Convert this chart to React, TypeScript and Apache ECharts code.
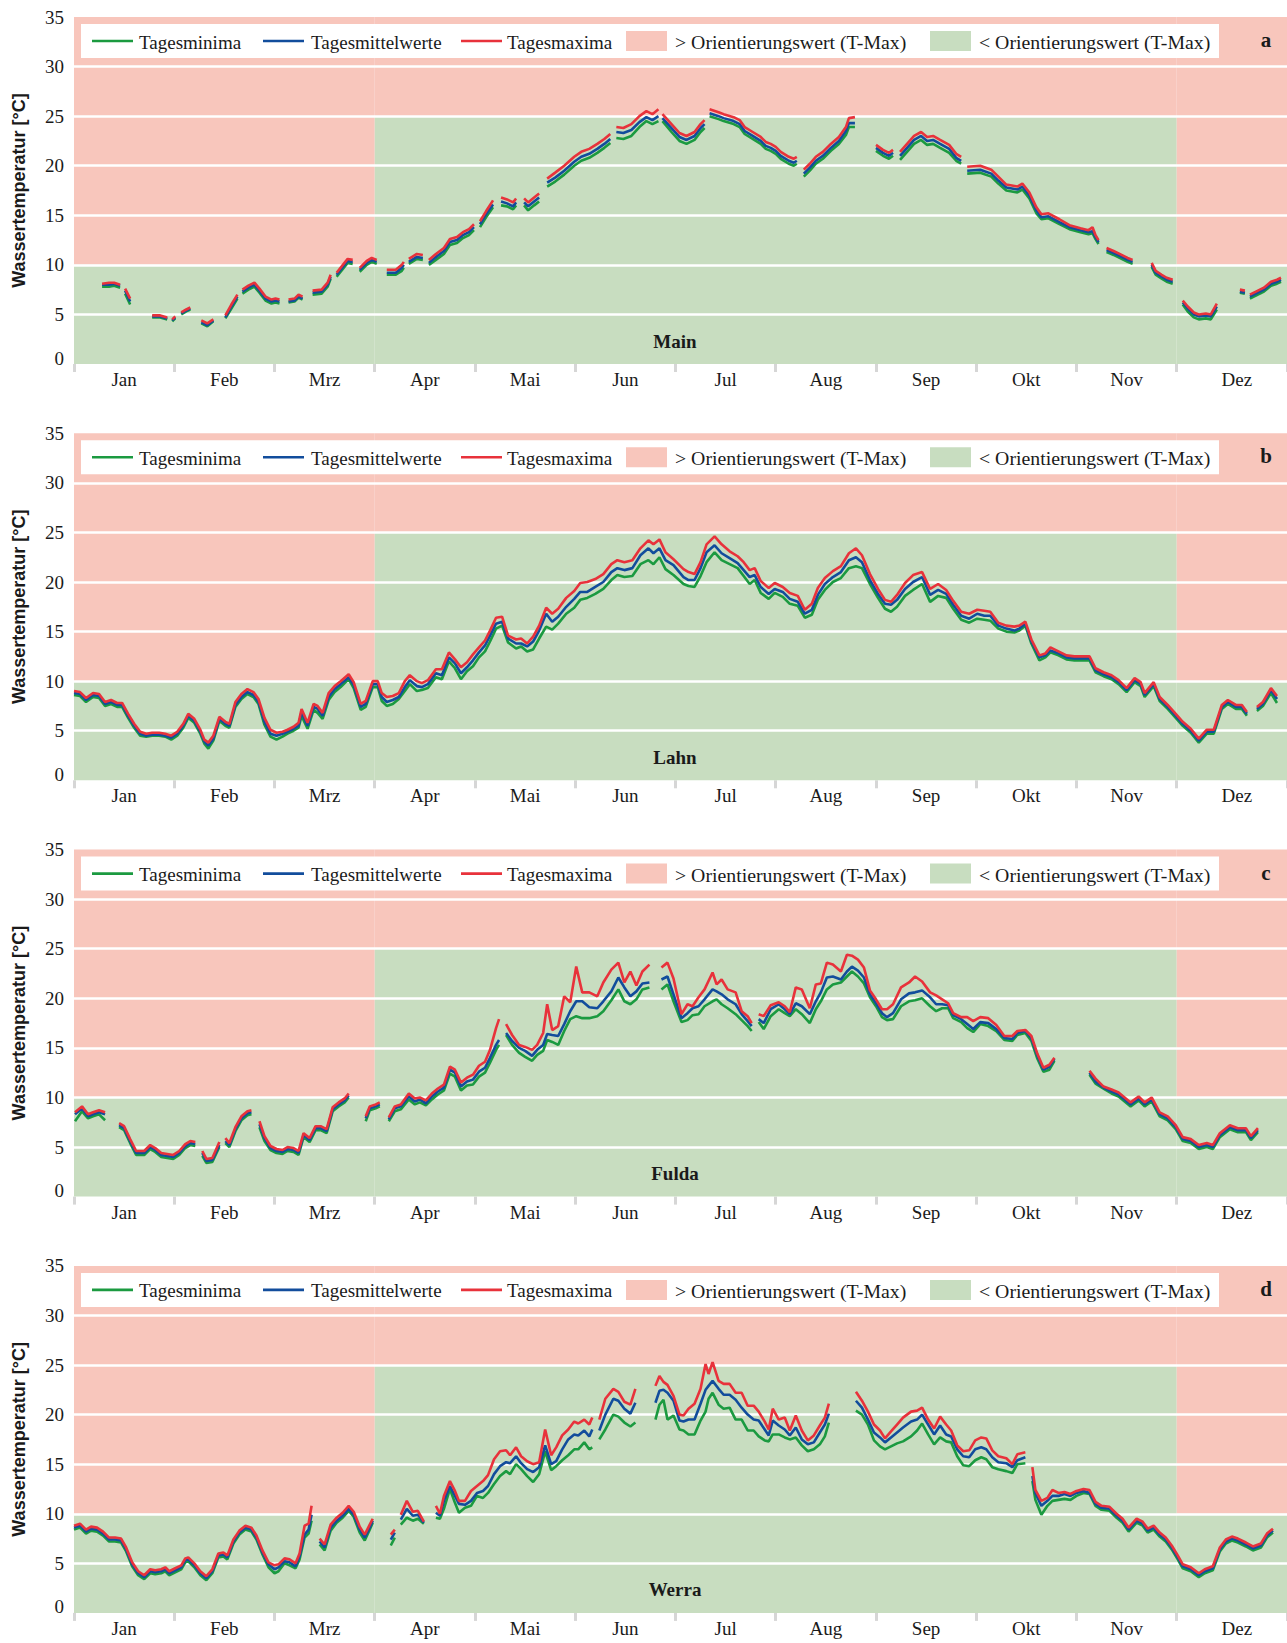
import React, { useEffect, useRef } from "react";
import * as echarts from "echarts";

// ---------- data ----------
const MONTHS = ["Jan", "Feb", "Mrz", "Apr", "Mai", "Jun", "Jul", "Aug", "Sep", "Okt", "Nov", "Dez"];
const RIVERS = ["Main", "Lahn", "Fulda", "Werra"];
const PANEL_LETTERS = ["a", "b", "c", "d"];
const SERIES_NAMES = ["Tagesminima", "Tagesmittelwerte", "Tagesmaxima"];
const AREA_NAMES = ["> Orientierungswert (T-Max)", "< Orientierungswert (T-Max)"];
const Y_TITLE = "Wassertemperatur [°C]";
// threshold (T-Max) by season: [fromMonth, toMonth, value]
const THRESHOLDS = [
  [0, 3, 10],
  [3, 11, 25],
  [11, 12.1, 10],
];

// rows: [position in months, Tagesminima, Tagesmittelwerte, Tagesmaxima]; null = no data
const mainData = [
  [0.28, 7.8, 8.0, 8.1], [0.35, 7.8, 8.0, 8.2], [0.40, 7.9, 8.1, 8.2], [0.46, 7.7, 7.9, 8.0],
  [0.48, null, null, null],
  [0.51, 7.1, 7.4, 7.6], [0.56, 6.0, 6.3, 6.6],
  [0.67, null, null, null],
  [0.78, 4.7, 4.8, 4.9], [0.86, 4.7, 4.8, 4.9], [0.93, 4.5, 4.6, 4.7],
  [0.955, null, null, null],
  [0.98, 4.3, 4.4, 4.5], [1.01, 4.6, 4.7, 4.8],
  [1.04, null, null, null],
  [1.07, 5.0, 5.1, 5.2], [1.12, 5.3, 5.4, 5.5], [1.16, 5.5, 5.6, 5.7],
  [1.21, null, null, null],
  [1.27, 4.1, 4.2, 4.4], [1.33, 3.8, 3.9, 4.1], [1.39, 4.3, 4.4, 4.5],
  [1.45, null, null, null],
  [1.51, 4.6, 4.7, 4.9], [1.57, 5.6, 5.8, 6.0], [1.63, 6.6, 6.8, 7.0],
  [1.655, null, null, null],
  [1.68, 7.1, 7.3, 7.5], [1.74, 7.5, 7.7, 7.9], [1.80, 7.8, 8.0, 8.2], [1.85, 7.2, 7.4, 7.6],
  [1.91, 6.4, 6.6, 6.8], [1.97, 6.1, 6.3, 6.5], [2.01, 6.2, 6.4, 6.6], [2.05, 6.1, 6.3, 6.5],
  [2.10, null, null, null],
  [2.14, 6.2, 6.3, 6.5], [2.20, 6.3, 6.4, 6.6], [2.24, 6.7, 6.8, 7.0], [2.28, 6.5, 6.6, 6.8],
  [2.33, null, null, null],
  [2.38, 7.0, 7.2, 7.4], [2.47, 7.1, 7.3, 7.5], [2.53, 7.8, 8.0, 8.2], [2.56, 8.6, 8.8, 9.0],
  [2.59, null, null, null],
  [2.62, 8.8, 9.0, 9.2], [2.69, 9.7, 9.9, 10.1], [2.73, 10.2, 10.4, 10.6], [2.78, 10.1, 10.3, 10.5],
  [2.815, null, null, null],
  [2.85, 9.3, 9.5, 9.7], [2.92, 10.0, 10.2, 10.4], [2.97, 10.3, 10.5, 10.7], [3.02, 10.1, 10.3, 10.5],
  [3.07, null, null, null],
  [3.12, 9.0, 9.2, 9.5], [3.21, 9.0, 9.2, 9.5], [3.27, 9.4, 9.7, 10.0], [3.29, 9.7, 10.0, 10.3],
  [3.315, null, null, null],
  [3.34, 10.1, 10.3, 10.6], [3.42, 10.6, 10.8, 11.1], [3.48, 10.5, 10.7, 11.0],
  [3.51, null, null, null],
  [3.54, 10.0, 10.2, 10.5], [3.61, 10.5, 10.8, 11.1], [3.69, 11.1, 11.4, 11.7], [3.75, 12.0, 12.3, 12.6],
  [3.82, 12.2, 12.5, 12.8], [3.88, 12.7, 13.0, 13.3], [3.94, 13.0, 13.3, 13.6], [3.99, 13.5, 13.8, 14.1],
  [4.02, null, null, null],
  [4.05, 13.8, 14.1, 14.4], [4.11, 14.8, 15.1, 15.4], [4.18, 15.8, 16.1, 16.5],
  [4.22, null, null, null],
  [4.26, 16.0, 16.4, 16.8], [4.32, 15.9, 16.2, 16.6], [4.38, 15.6, 15.9, 16.3], [4.41, 16.0, 16.3, 16.7],
  [4.45, null, null, null],
  [4.49, 16.0, 16.3, 16.7], [4.53, 15.5, 15.9, 16.3], [4.59, 16.0, 16.4, 16.8], [4.64, 16.4, 16.8, 17.2],
  [4.68, null, null, null],
  [4.72, 17.9, 18.3, 18.7], [4.80, 18.4, 18.8, 19.3], [4.89, 19.1, 19.5, 20.0], [4.99, 20.0, 20.4, 20.9],
  [5.06, 20.5, 20.9, 21.4], [5.14, 20.8, 21.2, 21.7], [5.22, 21.3, 21.7, 22.2], [5.29, 21.8, 22.2, 22.7],
  [5.35, 22.3, 22.7, 23.2],
  [5.38, null, null, null],
  [5.41, 22.8, 23.4, 23.9], [5.48, 22.7, 23.3, 23.8], [5.56, 23.0, 23.6, 24.2], [5.64, 23.9, 24.4, 25.0],
  [5.71, 24.5, 24.9, 25.5], [5.77, 24.2, 24.6, 25.2], [5.83, 24.5, 25.0, 25.7],
  [5.85, null, null, null],
  [5.87, 24.5, 24.8, 25.2], [5.96, 23.4, 23.8, 24.2], [6.04, 22.5, 22.9, 23.3], [6.11, 22.2, 22.6, 23.0],
  [6.19, 22.6, 23.0, 23.4], [6.25, 23.4, 23.8, 24.2], [6.29, 23.8, 24.2, 24.6],
  [6.315, null, null, null],
  [6.34, 25.0, 25.3, 25.7], [6.43, 24.7, 25.0, 25.4], [6.48, 24.5, 24.8, 25.2], [6.58, 24.2, 24.5, 24.9],
  [6.64, 23.9, 24.2, 24.6], [6.69, 23.2, 23.5, 23.9], [6.77, 22.7, 23.0, 23.4], [6.85, 22.2, 22.5, 22.9],
  [6.90, 21.7, 22.0, 22.4], [6.95, 21.5, 21.8, 22.2], [7.00, 21.2, 21.5, 21.9], [7.05, 20.7, 21.0, 21.4],
  [7.13, 20.2, 20.5, 20.9], [7.18, 20.0, 20.3, 20.7], [7.21, 20.2, 20.5, 20.9],
  [7.245, null, null, null],
  [7.28, 18.9, 19.2, 19.6], [7.34, 19.5, 19.8, 20.2], [7.40, 20.2, 20.5, 20.9], [7.47, 20.7, 21.0, 21.4],
  [7.55, 21.5, 21.8, 22.2], [7.63, 22.2, 22.5, 22.9], [7.70, 23.1, 23.5, 23.9], [7.73, 23.9, 24.3, 24.8],
  [7.79, 23.9, 24.3, 24.9],
  [7.90, null, null, null],
  [8.00, 21.5, 21.8, 22.1], [8.07, 21.0, 21.3, 21.6], [8.13, 20.7, 21.0, 21.3], [8.17, 21.0, 21.3, 21.6],
  [8.205, null, null, null],
  [8.24, 20.6, 21.0, 21.4], [8.31, 21.4, 21.8, 22.2], [8.38, 22.2, 22.6, 23.0], [8.45, 22.6, 23.0, 23.4],
  [8.51, 22.1, 22.5, 22.9], [8.57, 22.2, 22.6, 23.0], [8.64, 21.8, 22.2, 22.6], [8.73, 21.3, 21.7, 22.1],
  [8.80, 20.5, 20.8, 21.2], [8.85, 20.2, 20.5, 20.9],
  [8.88, null, null, null],
  [8.91, 19.2, 19.5, 19.9], [9.04, 19.3, 19.6, 20.0], [9.15, 18.9, 19.2, 19.6], [9.22, 18.2, 18.5, 18.9],
  [9.30, 17.5, 17.8, 18.1], [9.41, 17.3, 17.6, 17.9], [9.46, 17.6, 17.9, 18.2], [9.53, 16.7, 17.0, 17.3],
  [9.60, 15.2, 15.5, 15.8], [9.65, 14.6, 14.8, 15.1], [9.72, 14.7, 14.9, 15.2], [9.83, 14.1, 14.3, 14.6],
  [9.93, 13.6, 13.8, 14.0], [10.04, 13.3, 13.5, 13.7], [10.12, 13.1, 13.3, 13.5], [10.16, 13.2, 13.4, 13.8],
  [10.19, 12.6, 12.8, 13.0], [10.22, 12.1, 12.3, 12.5],
  [10.26, null, null, null],
  [10.30, 11.3, 11.5, 11.7], [10.37, 11.0, 11.2, 11.4], [10.43, 10.7, 10.9, 11.1], [10.51, 10.3, 10.5, 10.7],
  [10.56, 10.1, 10.3, 10.5],
  [10.65, null, null, null],
  [10.75, 9.8, 10.0, 10.2], [10.79, 9.0, 9.2, 9.4], [10.85, 8.6, 8.8, 9.0], [10.90, 8.3, 8.5, 8.7],
  [10.96, 8.1, 8.3, 8.5],
  [11.01, null, null, null],
  [11.06, 6.0, 6.2, 6.4], [11.11, 5.3, 5.6, 5.8], [11.17, 4.7, 5.0, 5.2], [11.22, 4.5, 4.8, 5.0],
  [11.29, 4.6, 4.9, 5.1], [11.34, 4.5, 4.8, 5.0], [11.40, 5.5, 5.8, 6.1],
  [11.50, null, null, null],
  [11.63, 7.2, 7.3, 7.5], [11.68, 7.1, 7.2, 7.4],
  [11.705, null, null, null],
  [11.73, 6.6, 6.8, 7.0], [11.79, 6.9, 7.1, 7.3], [11.87, 7.3, 7.5, 7.7], [11.94, 7.9, 8.1, 8.3],
  [12.00, 8.1, 8.3, 8.5], [12.04, 8.3, 8.5, 8.7],
];

const lahnData = [
  [0.00, 8.6, 8.8, 9.0], [0.06, 8.5, 8.7, 8.9], [0.12, 7.9, 8.1, 8.3], [0.19, 8.4, 8.6, 8.8],
  [0.25, 8.3, 8.5, 8.7], [0.31, 7.5, 7.7, 7.9], [0.37, 7.7, 7.9, 8.1], [0.43, 7.4, 7.6, 7.8],
  [0.48, 7.4, 7.6, 7.8], [0.54, 6.3, 6.5, 6.7], [0.60, 5.3, 5.5, 5.7], [0.66, 4.5, 4.7, 4.9],
  [0.72, 4.4, 4.5, 4.7], [0.78, 4.5, 4.6, 4.8], [0.85, 4.5, 4.6, 4.8], [0.91, 4.4, 4.5, 4.7],
  [0.97, 4.1, 4.3, 4.5], [1.03, 4.5, 4.7, 4.9], [1.09, 5.3, 5.5, 5.7], [1.14, 6.3, 6.5, 6.7],
  [1.20, 5.8, 6.0, 6.2], [1.26, 4.7, 4.9, 5.1], [1.30, 3.7, 3.9, 4.1], [1.34, 3.2, 3.5, 3.8],
  [1.39, 4.0, 4.2, 4.5], [1.45, 6.0, 6.2, 6.4], [1.51, 5.5, 5.7, 5.9], [1.55, 5.3, 5.5, 5.7],
  [1.61, 7.4, 7.6, 7.9], [1.67, 8.2, 8.4, 8.7], [1.73, 8.7, 8.9, 9.2], [1.79, 8.4, 8.6, 8.9],
  [1.84, 7.7, 7.9, 8.2], [1.90, 5.6, 5.9, 6.3], [1.96, 4.4, 4.7, 5.1], [2.02, 4.1, 4.5, 4.8],
  [2.08, 4.4, 4.7, 4.9], [2.13, 4.7, 4.9, 5.1], [2.19, 5.0, 5.2, 5.4], [2.24, 5.3, 5.5, 5.8],
  [2.27, 6.5, 6.9, 7.2], [2.33, 5.2, 5.5, 5.8], [2.39, 7.1, 7.4, 7.7], [2.43, 6.8, 7.2, 7.5],
  [2.48, 6.2, 6.5, 6.8], [2.54, 8.1, 8.4, 8.8], [2.60, 8.9, 9.2, 9.5], [2.66, 9.4, 9.7, 10.0],
  [2.74, 10.2, 10.4, 10.7], [2.79, 9.3, 9.6, 9.9], [2.86, 7.1, 7.4, 7.7], [2.91, 7.4, 7.7, 8.0],
  [2.98, 9.4, 9.7, 10.0], [3.03, 9.4, 9.7, 10.0], [3.07, 8.0, 8.4, 8.8], [3.12, 7.5, 7.9, 8.4],
  [3.18, 7.7, 8.1, 8.5], [3.24, 8.2, 8.4, 8.8], [3.30, 9.0, 9.4, 10.0], [3.35, 9.7, 10.1, 10.6],
  [3.42, 9.0, 9.5, 10.0], [3.47, 9.1, 9.4, 9.8], [3.53, 9.3, 9.7, 10.1], [3.61, 10.4, 10.8, 11.2],
  [3.67, 10.2, 10.6, 11.2], [3.74, 12.0, 12.4, 12.9], [3.80, 11.3, 11.8, 12.2], [3.86, 10.2, 10.8, 11.4],
  [3.92, 11.0, 11.4, 11.9], [3.98, 11.5, 12.1, 12.7], [4.04, 12.4, 12.9, 13.4], [4.10, 13.0, 13.6, 14.1],
  [4.15, 14.0, 14.6, 15.1], [4.21, 15.3, 15.8, 16.4], [4.27, 15.6, 16.0, 16.5], [4.33, 13.9, 14.3, 14.6],
  [4.41, 13.3, 13.8, 14.2], [4.46, 13.5, 13.8, 14.3], [4.52, 13.0, 13.5, 13.8], [4.58, 13.2, 14.0, 14.5],
  [4.64, 14.3, 15.1, 15.6], [4.71, 15.5, 16.8, 17.4], [4.77, 15.2, 16.0, 16.8], [4.83, 15.8, 16.5, 17.3],
  [4.91, 16.8, 17.5, 18.4], [4.99, 17.4, 18.3, 19.1], [5.05, 18.2, 19.0, 19.9], [5.12, 18.4, 19.0, 20.0],
  [5.20, 18.8, 19.5, 20.3], [5.28, 19.3, 20.0, 20.8], [5.36, 20.2, 21.0, 21.8], [5.42, 20.7, 21.4, 22.2],
  [5.49, 20.5, 21.2, 22.0], [5.57, 20.6, 21.4, 22.2], [5.65, 21.8, 22.7, 23.4], [5.73, 22.2, 23.4, 24.2],
  [5.78, 21.8, 22.9, 23.8], [5.84, 22.5, 23.4, 24.3], [5.90, 21.3, 22.2, 23.0], [5.98, 20.7, 21.7, 22.3],
  [6.08, 19.8, 20.5, 21.3], [6.13, 19.6, 20.2, 21.0], [6.19, 19.5, 20.2, 20.8], [6.25, 20.6, 21.4, 22.0],
  [6.31, 22.0, 23.0, 23.8], [6.39, 23.0, 23.7, 24.6], [6.46, 22.2, 22.9, 23.8], [6.54, 21.8, 22.4, 23.1],
  [6.62, 21.4, 21.9, 22.6], [6.68, 20.6, 21.2, 22.0], [6.74, 19.8, 20.5, 21.2], [6.79, 20.2, 20.7, 21.4],
  [6.85, 18.9, 19.5, 20.1], [6.93, 18.3, 18.8, 19.4], [6.99, 18.9, 19.3, 19.9], [7.07, 18.5, 19.0, 19.5],
  [7.14, 17.8, 18.3, 18.9], [7.22, 17.6, 18.0, 18.6], [7.29, 16.4, 16.8, 17.2], [7.36, 16.7, 17.2, 17.8],
  [7.42, 18.2, 18.7, 19.4], [7.49, 19.2, 19.8, 20.4], [7.57, 20.0, 20.5, 21.1], [7.65, 20.4, 21.0, 21.6],
  [7.73, 21.4, 22.2, 22.9], [7.80, 21.6, 22.5, 23.4], [7.86, 21.4, 22.0, 22.7], [7.94, 19.8, 20.2, 20.8],
  [8.02, 18.4, 18.8, 19.3], [8.09, 17.3, 17.8, 18.2], [8.15, 17.0, 17.7, 18.0], [8.21, 17.5, 18.2, 18.7],
  [8.29, 18.6, 19.3, 19.9], [8.37, 19.2, 20.0, 20.7], [8.46, 19.8, 20.5, 21.0], [8.54, 18.0, 18.7, 19.3],
  [8.62, 18.6, 19.2, 19.8], [8.70, 18.4, 18.8, 19.2], [8.77, 17.3, 17.7, 18.1], [8.85, 16.2, 16.6, 17.0],
  [8.93, 15.9, 16.3, 16.8], [9.01, 16.3, 16.8, 17.2], [9.08, 16.2, 16.6, 17.1], [9.14, 16.1, 16.6, 17.0],
  [9.22, 15.3, 15.6, 15.9], [9.30, 15.0, 15.3, 15.6], [9.38, 14.9, 15.1, 15.5], [9.43, 15.1, 15.3, 15.6],
  [9.49, 15.6, 15.8, 16.0], [9.55, 13.8, 14.0, 14.2], [9.63, 12.1, 12.4, 12.6], [9.69, 12.4, 12.6, 12.8],
  [9.74, 12.9, 13.1, 13.4], [9.82, 12.6, 12.8, 13.0], [9.90, 12.2, 12.4, 12.6], [9.98, 12.1, 12.3, 12.5],
  [10.05, 12.1, 12.3, 12.5], [10.13, 12.1, 12.3, 12.5], [10.19, 10.9, 11.1, 11.3], [10.27, 10.5, 10.7, 10.9],
  [10.35, 10.2, 10.4, 10.6], [10.42, 9.7, 9.9, 10.1], [10.50, 8.9, 9.1, 9.3], [10.58, 9.9, 10.1, 10.3],
  [10.64, 9.5, 9.7, 9.9], [10.68, 8.4, 8.6, 8.8], [10.77, 9.5, 9.7, 9.9], [10.83, 8.0, 8.2, 8.4],
  [10.91, 7.2, 7.4, 7.6], [10.99, 6.3, 6.5, 6.7], [11.06, 5.5, 5.7, 5.9], [11.14, 4.8, 5.0, 5.2],
  [11.22, 3.8, 4.0, 4.2], [11.30, 4.7, 4.9, 5.1], [11.37, 4.7, 4.9, 5.1], [11.45, 7.2, 7.4, 7.6],
  [11.51, 7.7, 7.9, 8.1], [11.59, 7.2, 7.4, 7.6], [11.65, 7.2, 7.4, 7.6], [11.70, 6.5, 6.7, 6.9],
  [11.75, null, null, null],
  [11.80, 7.0, 7.2, 7.4], [11.86, 7.5, 7.7, 7.9], [11.94, 8.8, 9.1, 9.3], [12.00, 7.8, 8.2, 8.5],
];

const fuldaData = [
  [0.01, 7.6, 8.3, 8.5], [0.08, 8.6, 8.9, 9.1], [0.14, 7.9, 8.1, 8.3], [0.19, 8.1, 8.3, 8.5],
  [0.25, 8.3, 8.5, 8.7], [0.31, 7.7, 8.3, 8.5],
  [0.38, null, null, null],
  [0.45, 7.0, 7.2, 7.4], [0.50, 6.7, 6.9, 7.1], [0.56, 5.4, 5.6, 5.8], [0.62, 4.2, 4.4, 4.6],
  [0.70, 4.2, 4.4, 4.6], [0.76, 4.8, 5.0, 5.2], [0.81, 4.5, 4.7, 4.9], [0.87, 4.0, 4.2, 4.4],
  [0.93, 3.9, 4.1, 4.3], [0.99, 3.8, 4.0, 4.2], [1.05, 4.2, 4.4, 4.6], [1.11, 4.9, 5.1, 5.3],
  [1.16, 5.2, 5.4, 5.6], [1.21, 5.1, 5.3, 5.5],
  [1.245, null, null, null],
  [1.28, 4.1, 4.4, 4.6], [1.32, 3.4, 3.6, 3.8], [1.38, 3.5, 3.7, 3.9], [1.45, 5.0, 5.2, 5.5],
  [1.48, null, null, null],
  [1.51, 5.4, 5.6, 5.9], [1.55, 5.0, 5.2, 5.4], [1.61, 6.6, 6.8, 7.0], [1.67, 7.7, 7.9, 8.1],
  [1.73, 8.2, 8.4, 8.6], [1.77, 8.3, 8.5, 8.7],
  [1.81, null, null, null],
  [1.85, 7.0, 7.3, 7.6], [1.90, 5.6, 5.9, 6.1], [1.96, 4.7, 4.9, 5.1], [2.02, 4.4, 4.6, 4.8],
  [2.08, 4.3, 4.5, 4.7], [2.13, 4.6, 4.8, 5.0], [2.19, 4.5, 4.7, 4.9], [2.24, 4.2, 4.4, 4.6],
  [2.29, 6.0, 6.2, 6.4], [2.35, 5.5, 5.7, 5.9], [2.41, 6.7, 6.9, 7.1], [2.46, 6.7, 6.9, 7.1],
  [2.52, 6.4, 6.6, 6.8], [2.58, 8.6, 8.8, 9.0], [2.64, 9.1, 9.3, 9.5], [2.70, 9.5, 9.7, 9.9],
  [2.74, 10.0, 10.2, 10.4],
  [2.82, null, null, null],
  [2.91, 7.6, 7.9, 8.1], [2.95, 8.7, 8.9, 9.1], [3.01, 8.9, 9.1, 9.3], [3.05, 9.1, 9.3, 9.5],
  [3.10, null, null, null],
  [3.14, 7.6, 7.8, 8.0], [3.20, 8.6, 8.9, 9.1], [3.26, 8.8, 9.1, 9.3], [3.34, 9.8, 10.1, 10.4],
  [3.40, 9.3, 9.6, 9.9], [3.45, 9.5, 9.8, 10.0], [3.51, 9.2, 9.4, 9.7], [3.57, 9.8, 10.1, 10.4],
  [3.63, 10.3, 10.6, 10.9], [3.69, 10.7, 11.0, 11.3], [3.75, 12.4, 12.8, 13.1], [3.80, 12.1, 12.5, 12.8],
  [3.86, 10.7, 11.1, 11.5], [3.92, 11.2, 11.6, 12.0], [3.98, 11.3, 11.8, 12.3], [4.04, 12.1, 12.6, 13.2],
  [4.10, 12.5, 13.0, 13.6], [4.15, 13.5, 14.0, 14.8], [4.21, 14.8, 15.3, 17.0], [4.24, 15.3, 15.8, 17.9],
  [4.27, null, null, null],
  [4.31, 16.3, 16.5, 17.4], [4.37, 15.3, 15.7, 16.3], [4.44, 14.5, 15.0, 15.3], [4.50, 14.1, 14.7, 15.1],
  [4.57, 13.7, 14.2, 14.8], [4.62, 14.3, 14.8, 15.3], [4.68, 14.7, 15.3, 16.5], [4.72, 15.8, 16.4, 19.4],
  [4.77, 15.6, 16.3, 16.8], [4.83, 15.3, 16.2, 17.2], [4.89, 16.7, 17.4, 20.2], [4.95, 17.9, 18.7, 19.6],
  [5.01, 18.2, 19.7, 23.2], [5.07, 18.0, 19.7, 20.6], [5.14, 18.0, 19.1, 20.6], [5.22, 18.2, 19.0, 20.2],
  [5.28, 18.7, 19.7, 21.6], [5.36, 19.8, 20.7, 22.9], [5.43, 20.9, 22.1, 23.6], [5.49, 19.7, 21.1, 21.6],
  [5.55, 19.4, 20.2, 22.7], [5.61, 19.9, 20.7, 21.3], [5.67, 20.9, 21.5, 22.7], [5.74, 21.1, 21.6, 23.4],
  [5.80, null, null, null],
  [5.86, 20.9, 21.9, 23.1], [5.92, 21.4, 22.2, 23.6], [5.98, 19.7, 20.4, 22.0], [6.06, 17.6, 18.0, 18.4],
  [6.12, 17.8, 18.5, 19.4], [6.17, 18.3, 19.0, 19.2], [6.23, 18.4, 19.2, 20.1], [6.29, 19.2, 19.9, 20.9],
  [6.37, 19.7, 20.9, 22.6], [6.41, 19.9, 20.7, 21.4], [6.46, 19.4, 20.4, 21.9], [6.52, 19.0, 19.9, 20.9],
  [6.60, 18.4, 19.4, 20.6], [6.66, 17.8, 18.4, 18.7], [6.72, 17.2, 17.7, 18.2], [6.76, 16.7, 17.2, 17.5],
  [6.795, null, null, null],
  [6.83, 17.6, 17.9, 18.4], [6.88, 16.9, 17.5, 18.2], [6.95, 18.2, 18.9, 19.3], [7.03, 18.9, 19.4, 19.6],
  [7.09, 18.5, 18.9, 19.2], [7.14, 18.2, 18.4, 18.6], [7.20, 18.9, 19.5, 21.1], [7.26, 18.4, 19.2, 20.9],
  [7.34, 17.5, 18.4, 19.0], [7.40, 18.9, 19.7, 21.4], [7.45, 19.7, 20.6, 21.5], [7.51, 20.9, 22.1, 23.6],
  [7.57, 21.4, 22.2, 23.4], [7.65, 21.6, 21.9, 22.7], [7.71, 22.2, 22.7, 24.4], [7.76, 22.7, 23.2, 24.3],
  [7.82, 22.2, 22.8, 23.9], [7.88, 21.5, 22.1, 23.1], [7.94, 20.1, 20.4, 20.8], [8.00, 19.2, 19.5, 19.9],
  [8.06, 18.1, 18.5, 18.9], [8.11, 17.8, 18.1, 18.9], [8.17, 17.9, 18.5, 19.4], [8.25, 19.2, 19.9, 21.1],
  [8.33, 19.7, 20.5, 21.6], [8.39, 19.8, 20.6, 22.2], [8.46, 20.0, 20.8, 21.7], [8.54, 19.2, 20.1, 20.6],
  [8.60, 18.7, 19.4, 20.3], [8.66, 19.0, 19.4, 19.9], [8.72, 19.0, 19.3, 19.5], [8.77, 18.0, 18.3, 18.5],
  [8.85, 17.6, 17.9, 18.1], [8.91, 17.0, 17.4, 18.1], [8.97, 16.6, 16.9, 17.7], [9.04, 17.4, 17.6, 18.1],
  [9.12, 17.2, 17.5, 18.0], [9.20, 16.7, 16.9, 17.3], [9.28, 15.8, 16.0, 16.2], [9.36, 15.7, 15.9, 16.2],
  [9.41, 16.3, 16.5, 16.7], [9.49, 16.5, 16.7, 16.8], [9.55, 15.7, 16.0, 16.2], [9.61, 13.9, 14.2, 14.4],
  [9.67, 12.6, 12.8, 13.0], [9.73, 12.8, 13.1, 13.3], [9.78, 13.7, 13.9, 14.0],
  [9.95, null, null, null],
  [10.13, 12.3, 12.5, 12.7], [10.19, 11.4, 11.6, 11.9], [10.27, 10.9, 11.0, 11.1], [10.35, 10.4, 10.6, 10.8],
  [10.42, 10.1, 10.3, 10.5], [10.48, 9.6, 9.8, 10.0], [10.54, 9.1, 9.3, 9.5], [10.62, 9.7, 9.9, 10.1],
  [10.68, 9.1, 9.3, 9.5], [10.75, 9.6, 9.8, 10.0], [10.83, 8.1, 8.3, 8.5], [10.91, 7.7, 7.9, 8.1],
  [10.99, 6.8, 7.0, 7.2], [11.06, 5.6, 5.8, 6.0], [11.14, 5.4, 5.6, 5.8], [11.22, 4.8, 5.0, 5.2],
  [11.30, 5.0, 5.2, 5.4], [11.36, 4.8, 5.0, 5.2], [11.43, 6.0, 6.2, 6.4], [11.53, 6.8, 7.0, 7.2],
  [11.61, 6.5, 6.7, 6.9], [11.69, 6.5, 6.7, 6.9], [11.74, 5.7, 5.9, 6.1], [11.81, 6.5, 6.7, 6.9],
];

const werraData = [
  [0.00, 8.4, 8.6, 8.8], [0.06, 8.6, 8.8, 9.0], [0.12, 8.0, 8.2, 8.4], [0.17, 8.3, 8.5, 8.7],
  [0.23, 8.2, 8.4, 8.6], [0.29, 7.8, 8.0, 8.2], [0.35, 7.2, 7.4, 7.6], [0.41, 7.2, 7.4, 7.6],
  [0.47, 7.1, 7.3, 7.5], [0.52, 6.2, 6.4, 6.6], [0.58, 4.7, 4.9, 5.1], [0.64, 3.8, 4.0, 4.2],
  [0.70, 3.4, 3.6, 3.8], [0.76, 4.0, 4.2, 4.4], [0.81, 3.9, 4.1, 4.3], [0.87, 4.0, 4.2, 4.4],
  [0.91, 4.2, 4.4, 4.6], [0.95, 3.8, 4.0, 4.2], [1.01, 4.1, 4.3, 4.5], [1.07, 4.4, 4.6, 4.8],
  [1.11, 5.1, 5.3, 5.5], [1.14, 5.2, 5.4, 5.6], [1.20, 4.6, 4.8, 5.0], [1.26, 3.8, 4.0, 4.2],
  [1.32, 3.3, 3.5, 3.7], [1.38, 4.0, 4.2, 4.4], [1.44, 5.6, 5.8, 6.0], [1.49, 5.7, 5.9, 6.1],
  [1.53, 5.4, 5.6, 5.8], [1.59, 7.0, 7.2, 7.4], [1.65, 7.9, 8.1, 8.3], [1.71, 8.4, 8.6, 8.8],
  [1.77, 8.2, 8.4, 8.6], [1.82, 7.4, 7.6, 7.8], [1.88, 5.9, 6.1, 6.3], [1.94, 4.6, 4.9, 5.1],
  [2.00, 4.0, 4.4, 4.8], [2.04, 4.2, 4.6, 4.9], [2.10, 5.0, 5.2, 5.5], [2.15, 4.8, 5.1, 5.4],
  [2.21, 4.5, 4.7, 5.0], [2.25, 5.4, 5.7, 6.0], [2.30, 7.6, 7.9, 8.8], [2.34, 8.0, 8.4, 9.0],
  [2.37, 9.3, 9.9, 10.8],
  [2.40, null, null, null],
  [2.45, 6.9, 7.2, 7.5], [2.50, 6.3, 6.6, 6.9], [2.56, 8.3, 8.6, 8.9], [2.62, 9.1, 9.3, 9.6],
  [2.68, 9.6, 9.8, 10.1], [2.74, 10.3, 10.5, 10.8], [2.79, 9.7, 9.9, 10.2], [2.85, 8.1, 8.4, 8.7],
  [2.90, 7.3, 7.6, 7.9], [2.95, 8.4, 8.6, 8.9], [2.98, 9.1, 9.3, 9.5],
  [3.07, null, null, null],
  [3.16, 6.8, 7.4, 7.9], [3.20, 7.6, 8.1, 8.4],
  [3.23, null, null, null],
  [3.26, 8.9, 9.4, 9.9], [3.32, 9.6, 10.5, 11.3], [3.38, 9.3, 9.8, 10.2], [3.43, 9.5, 9.9, 10.3],
  [3.49, 9.0, 9.1, 9.2],
  [3.55, null, null, null],
  [3.61, 9.6, 10.1, 10.8], [3.65, 9.5, 9.8, 10.0], [3.69, 10.5, 11.3, 11.8], [3.75, 12.5, 12.8, 13.3],
  [3.80, 11.1, 11.8, 12.3], [3.84, 10.1, 11.0, 11.3], [3.90, 10.6, 10.9, 11.3], [3.96, 10.8, 11.3, 12.3],
  [4.02, 11.8, 12.1, 12.8], [4.08, 11.6, 12.3, 13.3], [4.13, 12.1, 12.8, 13.9], [4.19, 13.0, 14.0, 15.5],
  [4.25, 13.8, 14.8, 16.3], [4.31, 14.3, 15.2, 16.4], [4.35, 14.0, 15.1, 15.9], [4.41, 15.0, 15.8, 16.7],
  [4.46, 14.5, 15.1, 15.8], [4.52, 13.8, 14.5, 15.3], [4.58, 13.2, 14.2, 15.0], [4.64, 14.0, 14.7, 15.2],
  [4.70, 16.3, 16.9, 18.5], [4.76, 14.4, 15.0, 15.9], [4.81, 14.8, 15.3, 16.7], [4.87, 15.4, 16.5, 17.9],
  [4.93, 15.9, 17.5, 18.5], [4.99, 16.5, 18.0, 19.3], [5.03, 16.5, 17.9, 19.1], [5.09, 17.2, 18.4, 19.5],
  [5.14, 16.5, 17.8, 19.0], [5.17, 16.7, 18.5, 19.7],
  [5.21, null, null, null],
  [5.24, 17.5, 18.4, 19.5], [5.30, 18.5, 20.0, 21.6], [5.38, 20.0, 21.6, 22.6], [5.43, 19.8, 21.4, 22.3],
  [5.49, 19.2, 20.6, 21.3], [5.55, 18.8, 20.1, 21.0], [5.60, 19.2, 21.2, 22.6],
  [5.70, null, null, null],
  [5.80, 19.5, 21.2, 22.9], [5.84, 21.0, 22.4, 23.9], [5.88, 21.5, 22.5, 23.3], [5.92, 19.5, 22.2, 23.0],
  [5.98, 19.9, 21.4, 21.9], [6.04, 18.5, 19.4, 20.0], [6.08, 18.4, 19.3, 19.9], [6.13, 18.0, 19.5, 20.6],
  [6.19, 18.0, 19.5, 21.1], [6.25, 19.4, 21.1, 22.6], [6.30, 20.3, 22.5, 25.1], [6.33, 21.6, 22.9, 24.1],
  [6.37, 22.2, 23.4, 25.3], [6.43, 21.0, 22.6, 23.4], [6.48, 20.6, 22.0, 23.1], [6.54, 20.7, 22.0, 23.1],
  [6.60, 19.5, 21.5, 22.2], [6.66, 19.5, 20.7, 22.2], [6.72, 18.4, 20.0, 20.9], [6.78, 18.4, 19.5, 20.9],
  [6.83, 17.8, 19.4, 20.3], [6.89, 17.4, 18.5, 19.3], [6.93, 17.3, 17.9, 18.5], [6.97, 18.0, 19.4, 20.6],
  [7.03, 18.0, 18.9, 19.5], [7.09, 17.7, 18.5, 19.7], [7.14, 17.5, 17.9, 18.4], [7.20, 17.7, 18.7, 19.9],
  [7.26, 16.9, 17.5, 18.4], [7.32, 16.3, 17.0, 17.4], [7.38, 16.5, 17.2, 17.9], [7.44, 17.0, 18.2, 18.9],
  [7.49, 17.8, 19.0, 19.7], [7.53, 19.2, 20.1, 21.1],
  [7.62, null, null, null],
  [7.80, 20.4, 21.4, 22.3], [7.86, 20.0, 20.7, 21.4], [7.92, 19.0, 19.5, 20.3], [7.98, 17.4, 18.2, 19.0],
  [8.04, 16.8, 17.7, 18.4], [8.09, 16.5, 17.2, 17.6], [8.15, 16.8, 17.7, 18.3], [8.21, 17.1, 18.2, 19.0],
  [8.27, 17.3, 18.7, 19.7], [8.35, 17.8, 19.3, 20.3], [8.41, 18.4, 19.5, 20.4], [8.46, 19.1, 20.0, 20.7],
  [8.52, 18.0, 19.0, 19.5], [8.58, 17.0, 18.0, 18.6], [8.64, 17.7, 18.9, 19.8], [8.70, 17.3, 18.0, 19.0],
  [8.75, 17.2, 17.8, 18.4], [8.81, 15.8, 16.5, 16.9], [8.87, 14.9, 15.8, 16.3], [8.93, 14.8, 15.7, 16.4],
  [8.99, 15.4, 16.5, 17.4], [9.05, 15.7, 16.7, 17.7], [9.10, 15.5, 16.5, 17.6], [9.16, 14.7, 15.7, 16.4],
  [9.22, 14.5, 15.2, 15.8], [9.30, 14.3, 15.1, 15.6], [9.36, 14.1, 14.7, 15.0], [9.41, 15.0, 15.4, 16.0],
  [9.49, 15.1, 15.7, 16.2],
  [9.525, null, null, null],
  [9.56, 13.3, 13.8, 14.7], [9.59, 11.4, 12.1, 12.4], [9.65, 9.9, 10.8, 11.3], [9.71, 10.8, 11.3, 11.6],
  [9.76, 11.3, 11.8, 12.4], [9.82, 11.4, 11.8, 12.1], [9.88, 11.5, 12.0, 12.2], [9.94, 11.4, 11.8, 12.0],
  [10.00, 11.8, 12.1, 12.3], [10.07, 12.1, 12.3, 12.5], [10.13, 12.0, 12.1, 12.4], [10.19, 10.8, 11.0, 11.2],
  [10.25, 10.4, 10.6, 10.8], [10.33, 10.3, 10.5, 10.7], [10.40, 9.6, 9.8, 10.0], [10.46, 9.1, 9.3, 9.5],
  [10.52, 8.2, 8.4, 8.6], [10.60, 9.1, 9.3, 9.5], [10.66, 8.8, 9.0, 9.2], [10.71, 8.1, 8.3, 8.5],
  [10.77, 8.4, 8.6, 8.8], [10.83, 7.7, 7.9, 8.1], [10.89, 7.2, 7.4, 7.6], [10.95, 6.4, 6.6, 6.8],
  [11.01, 5.4, 5.6, 5.8], [11.06, 4.5, 4.7, 4.9], [11.14, 4.2, 4.4, 4.6], [11.22, 3.6, 3.8, 4.0],
  [11.28, 4.0, 4.2, 4.4], [11.36, 4.3, 4.5, 4.7], [11.43, 6.2, 6.4, 6.6], [11.49, 7.0, 7.2, 7.4],
  [11.55, 7.3, 7.5, 7.7], [11.61, 7.1, 7.3, 7.5], [11.69, 6.7, 6.9, 7.1], [11.76, 6.3, 6.5, 6.7],
  [11.84, 6.6, 6.8, 7.0], [11.90, 7.6, 7.8, 8.0], [11.96, 8.1, 8.3, 8.5],
];

const PANELS = [mainData, lahnData, fuldaData, werraData];

// ---------- styling / layout ----------
const W = 1287;
const H = 1643;
const GRID_LEFT = 74;
const GRID_W = 1213;
const GRID_TOP0 = 17;
const PANEL_STEP = 416.3;
const GRID_H = 347;
const X_MAX = 12.1;
const Y_MAX = 35;
const COLORS = ["#1b9a40", "#124d9c", "#e8323b"];
const PINK = "#f8c6bc";
const GREEN_BG = "#c8ddc0";
const TEXT = "#1a1a1a";
const SERIF = "'Liberation Serif', 'Times New Roman', serif";
const SANS = "'Liberation Sans', Arial, sans-serif";

// category axis used only for month ticks/labels (0.1-month steps)
const N_CAT = Math.round(X_MAX * 10) + 1;
const catData = Array.from({ length: N_CAT }, (_, i) => String(i));
const labelAt = (i: number): string => {
  if (i === 116) return MONTHS[11];
  if (i % 10 === 5 && i <= 105) return MONTHS[(i - 5) / 10];
  return "";
};

function buildOption() {
  const grids: any[] = [];
  const xAxes: any[] = [];
  const yAxes: any[] = [];
  const series: any[] = [];
  const graphics: any[] = [];

  PANELS.forEach((rows, p) => {
    const top = GRID_TOP0 + p * PANEL_STEP;
    grids.push({ left: GRID_LEFT, top, width: GRID_W, height: GRID_H, containLabel: false });
    xAxes.push({
      type: "category",
      gridIndex: p,
      data: catData,
      boundaryGap: false,
      position: "bottom",
      axisLine: { show: false },
      axisTick: {
        show: true,
        interval: (i: number) => (i % 10 === 0 && i <= 110) || i === N_CAT - 1,
        length: 8,
        lineStyle: { color: "#d6d6d6", width: 3 },
      },
      axisLabel: {
        interval: (i: number) => labelAt(i) !== "",
        formatter: (_v: string, i: number) => labelAt(i),
        fontFamily: SERIF,
        fontSize: 19,
        color: TEXT,
        margin: 6,
      },
      splitLine: { show: false },
    });
    xAxes.push({
      type: "value",
      gridIndex: p,
      min: 0,
      max: X_MAX,
      show: false,
      position: "bottom",
    });
    yAxes.push({
      type: "value",
      gridIndex: p,
      min: 0,
      max: Y_MAX,
      interval: 5,
      axisLine: { show: false },
      axisTick: { show: false },
      splitLine: { show: false },
      axisLabel: {
        fontFamily: SERIF,
        fontSize: 19,
        color: TEXT,
        margin: 10,
        formatter: (v: number) => (v === 0 ? "{z|0}" : String(v)),
        rich: { z: { fontFamily: SERIF, fontSize: 19, color: TEXT, padding: [0, 0, 12, 0] } },
      },
    });

    const xi = p * 2 + 1;
    const areaData: any[] = [];
    THRESHOLDS.forEach(([a, b, v]) => {
      areaData.push([{ xAxis: a, yAxis: v, itemStyle: { color: PINK } }, { xAxis: b, yAxis: Y_MAX }]);
      areaData.push([{ xAxis: a, yAxis: 0, itemStyle: { color: GREEN_BG } }, { xAxis: b, yAxis: v }]);
    });
    series.push({
      type: "line",
      name: "bg" + p,
      xAxisIndex: xi,
      yAxisIndex: p,
      data: [],
      silent: true,
      z: 1,
      markArea: { silent: true, z: 1, data: areaData, itemStyle: { borderWidth: 0 } },
    });
    series.push({
      type: "line",
      name: "grid" + p,
      xAxisIndex: xi,
      yAxisIndex: p,
      data: [],
      silent: true,
      z: 2,
      markLine: {
        silent: true,
        z: 2,
        symbol: ["none", "none"],
        label: { show: false },
        lineStyle: { color: "#ffffff", width: 2.5, type: "solid" },
        data: [5, 10, 15, 20, 25, 30].map((v) => ({ yAxis: v })),
      },
    });
    SERIES_NAMES.forEach((name, k) => {
      series.push({
        type: "line",
        name,
        xAxisIndex: xi,
        yAxisIndex: p,
        data: rows.map((r) => [r[0], r[k + 1]]),
        showSymbol: false,
        symbol: "none",
        connectNulls: false,
        silent: true,
        z: 3 + k,
        lineStyle: { color: COLORS[k], width: 2.6 },
        itemStyle: { color: COLORS[k] },
      });
    });

    // legend box
    const ly = top + 24;
    graphics.push({ type: "rect", z: 100, shape: { x: 81, y: top + 7, width: 1138, height: 34 }, style: { fill: "#ffffff" } });
    const lineItems = [
      [92, 139],
      [263, 311],
      [461, 507],
    ];
    lineItems.forEach(([lx, tx], k) => {
      graphics.push({ type: "line", z: 101, shape: { x1: lx, y1: ly, x2: lx + 41, y2: ly }, style: { stroke: COLORS[k], lineWidth: 2.6 } });
      graphics.push({
        type: "text", z: 101, x: tx, y: ly + 1,
        style: { text: SERIES_NAMES[k], fill: TEXT, font: `19px ${SERIF}`, align: "left", verticalAlign: "middle" },
      });
    });
    const areaItems = [
      [626, 675, PINK],
      [930, 979, GREEN_BG],
    ];
    areaItems.forEach(([rx, tx, col], k) => {
      graphics.push({ type: "rect", z: 101, shape: { x: rx as number, y: top + 14, width: 41, height: 20 }, style: { fill: col as string } });
      graphics.push({
        type: "text", z: 101, x: tx as number, y: ly + 1,
        style: { text: AREA_NAMES[k], fill: TEXT, font: `19.8px ${SERIF}`, align: "left", verticalAlign: "middle" },
      });
    });
    // panel letter
    graphics.push({
      type: "text", z: 101, x: 1266, y: top + 23,
      style: { text: PANEL_LETTERS[p], fill: TEXT, font: `bold 21px ${SERIF}`, align: "center", verticalAlign: "middle" },
    });
    // river name
    graphics.push({
      type: "text", z: 101, x: 675, y: top + 324,
      style: { text: RIVERS[p], fill: TEXT, font: `bold 19px ${SERIF}`, align: "center", verticalAlign: "middle" },
    });
    // y axis title
    graphics.push({
      type: "text", z: 101, x: 19, y: top + GRID_H / 2, rotation: Math.PI / 2,
      style: { text: Y_TITLE, fill: TEXT, font: `bold 18px ${SANS}`, align: "center", verticalAlign: "middle" },
    });
  });

  return {
    animation: false,
    backgroundColor: "#ffffff",
    grid: grids,
    xAxis: xAxes,
    yAxis: yAxes,
    series,
    graphic: graphics,
  };
}

export default function App() {
  const ref = useRef<HTMLDivElement>(null);
  useEffect(() => {
    if (!ref.current) return;
    const chart = echarts.init(ref.current, undefined, { renderer: "svg" });
    chart.setOption(buildOption() as any);
    return () => chart.dispose();
  }, []);
  return (
    <div
      ref={ref}
      style={{ position: "absolute", left: 0, top: 0, width: W, height: H, background: "#fff" }}
    />
  );
}
